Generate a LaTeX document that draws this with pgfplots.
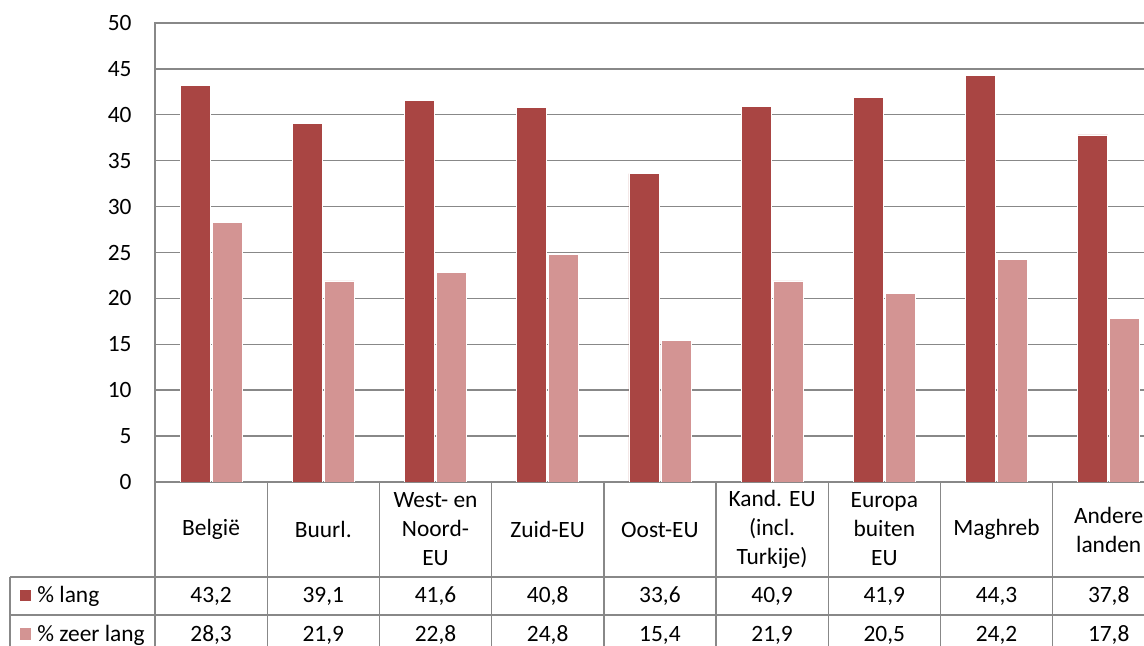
\documentclass[border=0pt]{standalone}
\usepackage{fontspec}
\setmainfont{Carlito}
\usepackage{pgfplots}
\pgfplotsset{compat=1.18}
\usepackage{pgfplotstable}
\pgfkeys{/pgf/number format/.cd, assume math mode=true}

\definecolor{lang}{HTML}{A94543}
\definecolor{zeer}{HTML}{D39493}
\definecolor{rooster}{HTML}{888888}

% lengte per herkomstgroep
\pgfplotstableread{
x lang zeer
0 43.2 28.3
1 39.1 21.9
2 41.6 22.8
3 40.8 24.8
4 33.6 15.4
5 40.9 21.9
6 41.9 20.5
7 44.3 24.2
8 37.8 17.8
}\data

\begin{document}
\fontsize{11.7}{14.5}\selectfont
\begin{tikzpicture}
\begin{scope}
\clip (-77.5pt,-82pt) rectangle (494.5pt,241pt);
\begin{axis}[
  at={(0,0)}, anchor=south west,
  scale only axis, width=505pt, height=229.5pt,
  xmin=-0.5, xmax=8.5, ymin=0, ymax=50,
  ytick distance=5, xtick=\empty,
  ymajorgrids, grid style={rooster, line width=0.7pt},
  axis line style={rooster, line width=0.7pt},
  tick style={draw=none},
  yticklabel style={anchor=east, inner sep=0pt, xshift=-11.5pt},
  ybar=1pt, bar width=15pt,
]
\addplot[fill=lang, draw=white, line width=0.4pt] table[x=x, y=lang]{\data};
\addplot[fill=zeer, draw=white, line width=0.4pt] table[x=x, y=zeer]{\data};
\end{axis}

% gegevenstabel onder de grafiek (1 eenheid = 1 px)
\begin{scope}[x=0.5pt, y=0.5pt]
  \draw[rooster, line width=0.7pt] (0,-95) -- (1010,-95);
  \draw[rooster, line width=0.7pt] (-145,-95) -- (1010,-95);
  \draw[rooster, line width=0.7pt] (-145,-133) -- (1010,-133);
  \draw[rooster, line width=0.7pt] (-145,-171) -- (1010,-171);
  \draw[rooster, line width=0.7pt] (-145,-95) -- (-145,-171);
  \foreach \i in {0,...,9}
    \draw[rooster, line width=0.7pt] ({\i*112.2},0) -- ({\i*112.2},-171);
  \foreach \lab [count=\i from 0] in {België, Buurl., {West- en\\Noord-\\EU}, Zuid-EU, Oost-EU,
      {Kand. EU\\(incl.\\Turkije)}, {Europa\\buiten\\EU}, Maghreb, {Andere\\landen}}
    \node[align=center, inner sep=0pt] at ({\i*112.2+56.1},-47.5) {\lab};
  \foreach \i in {0,...,8}{
    \pgfplotstablegetelem{\i}{lang}\of\data \let\va\pgfplotsretval
    \pgfplotstablegetelem{\i}{zeer}\of\data \let\vb\pgfplotsretval
    \node[anchor=base, inner sep=0pt] at ({\i*112.2+56.1},-121)
      {\pgfmathprintnumber[fixed, fixed zerofill, precision=1, use comma]{\va}};
    \node[anchor=base, inner sep=0pt] at ({\i*112.2+56.1},-160)
      {\pgfmathprintnumber[fixed, fixed zerofill, precision=1, use comma]{\vb}};
  }
  \fill[lang] (-135,-119.5) rectangle (-124,-108.5);
  \fill[zeer] (-135,-157.5) rectangle (-124,-146.5);
  \node[anchor=base west, inner sep=0pt] at (-118,-121) {\% lang};
  \node[anchor=base west, inner sep=0pt] at (-118,-160) {\% zeer lang};
\end{scope}
\end{scope}
\pgfresetboundingbox
\path[use as bounding box] (-77.5pt,-82pt) rectangle (494.5pt,241pt);
\end{tikzpicture}
\end{document}
